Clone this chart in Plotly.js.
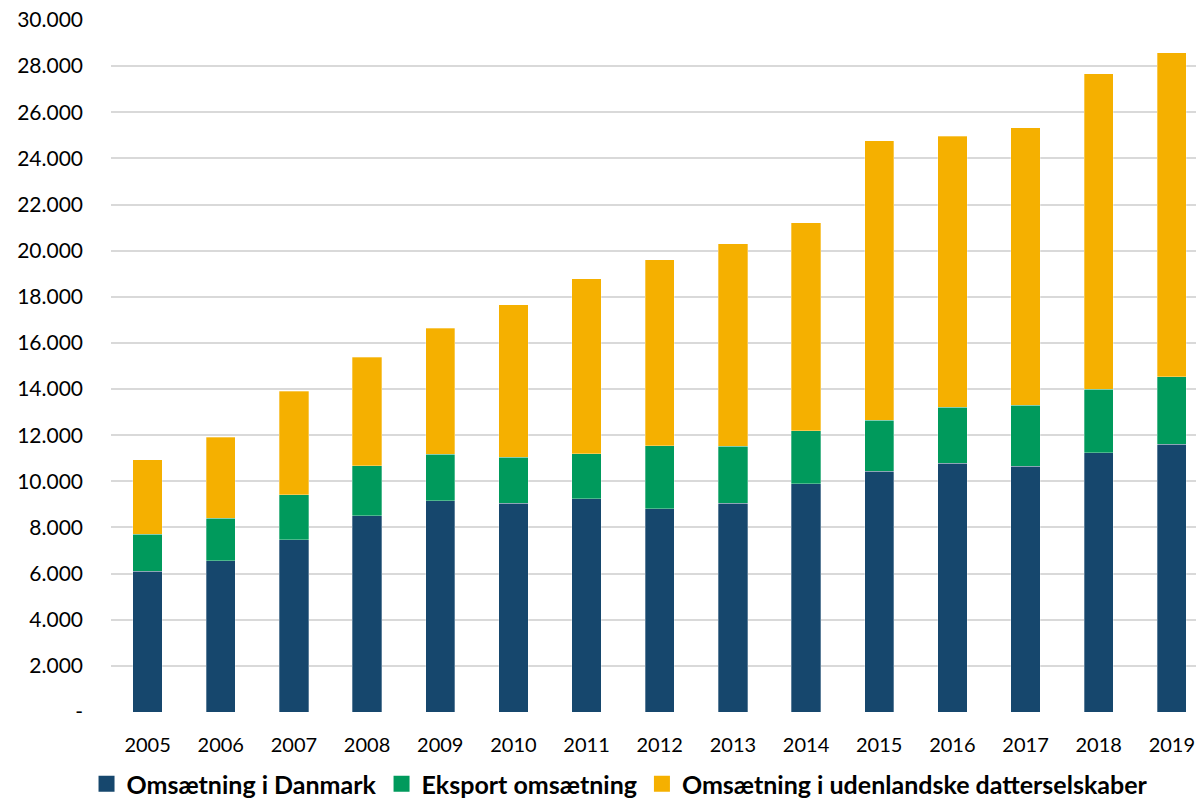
<!DOCTYPE html>
<html>
<head>
<meta charset="utf-8">
<script src="https://cdn.plot.ly/plotly-3.0.1.min.js"></script>
<style>html,body{margin:0;padding:0;background:#fff;}#chart{width:1196px;height:807px;}</style>
</head>
<body>
<div id="chart"></div>
<script>
const years = ['2005','2006','2007','2008','2009','2010','2011','2012','2013','2014','2015','2016','2017','2018','2019'];
const danmark = [6110, 6560, 7470, 8510, 9160, 9050, 9250, 8820, 9050, 9900, 10440, 10780, 10660, 11250, 11600];
const eksport = [1590, 1850, 1940, 2160, 2020, 2000, 1940, 2730, 2470, 2290, 2210, 2440, 2630, 2750, 2930];
const datter = [3230, 3500, 4490, 4720, 5450, 6610, 7600, 8060, 8790, 9010, 12110, 11750, 12040, 13660, 14040];
const seriesNames = ['Omsætning i Danmark', 'Eksport omsætning', 'Omsætning i udenlandske datterselskaber'];
const yTickVals = [0, 2000, 4000, 6000, 8000, 10000, 12000, 14000, 16000, 18000, 20000, 22000, 24000, 26000, 28000, 30000];
const yTickText = ['-', '2.000', '4.000', '6.000', '8.000', '10.000', '12.000', '14.000', '16.000', '18.000', '20.000', '22.000', '24.000', '26.000', '28.000', '30.000'];

const colors = ['#16476D', '#009A5C', '#F5B000'];
const vals = [danmark, eksport, datter];
const data = vals.map((v, i) => ({
  type: 'bar',
  x: years.map((y, k) => k),
  y: v,
  name: seriesNames[i],
  showlegend: false,
  marker: {color: colors[i], line: {color: 'rgba(255,255,255,0.5)', width: 0.6}},
  hoverinfo: 'none'
}));
// legend entries with larger square symbols
seriesNames.forEach((n, i) => data.push({
  type: 'scatter', mode: 'markers', x: [null], y: [null], name: n,
  marker: {symbol: 'square', size: 19, color: colors[i]},
  hoverinfo: 'none', showlegend: true
}));

const layout = {
  width: 1196, height: 807,
  margin: {l: 111, r: 0, t: 20, b: 95},
  barmode: 'stack',
  bargap: 0.6,
  paper_bgcolor: '#fff',
  plot_bgcolor: '#fff',
  font: {family: 'Lato, "Open Sans", sans-serif', color: '#000', size: 19},
  showlegend: true,
  legend: {
    orientation: 'h', xref: 'container', x: 0.518, xanchor: 'center',
    yref: 'container', y: -0.018, yanchor: 'bottom',
    font: {size: 25, weight: 'bold', color: '#000'},
    itemwidth: 30, traceorder: 'normal', itemclick: false
  },
  xaxis: {
    range: [-0.5, 14.33],
    tickvals: years.map((y, k) => k),
    ticktext: years,
    showgrid: false, zeroline: false, showline: false,
    ticks: '', ticklabelstandoff: 19,
    tickfont: {size: 20}
  },
  yaxis: {
    range: [0, 30000],
    tickvals: yTickVals, ticktext: yTickText,
    showgrid: true, gridcolor: '#D9D9D9', gridwidth: 2,
    zeroline: false, showline: false, ticks: '',
    ticklabelstandoff: 27,
    tickfont: {size: 21}
  }
};

Plotly.newPlot('chart', data, layout, {staticPlot: true});
</script>
</body>
</html>
